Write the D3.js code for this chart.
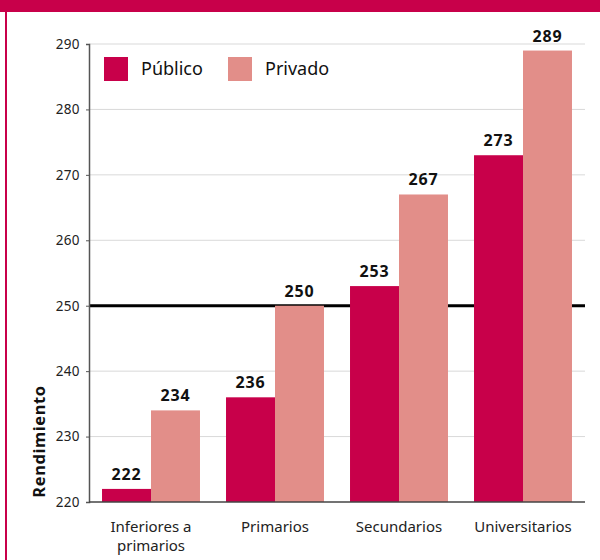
<!DOCTYPE html>
<html>
<head>
<meta charset="utf-8">
<script src="https://cdn.jsdelivr.net/npm/d3@7"></script>
<style>
  body { margin: 0; background: #fff; }
  svg { display: block; font-family: "Noto Sans", "Open Sans", sans-serif; }
</style>
</head>
<body>
<svg id="chart" width="600" height="560"></svg>
<script>
// data
const categories = [["Inferiores a", "primarios"], ["Primarios"], ["Secundarios"], ["Universitarios"]];
const seriesNames = ["Público", "Privado"];
const publico = [222, 236, 253, 273];
const privado = [234, 250, 267, 289];
const yTicks = [220, 230, 240, 250, 260, 270, 280, 290];
const reference = 250;

const colors = {"Público": "#C8004A", "Privado": "#E28E89"};
const margin = {top: 44, right: 15, bottom: 58, left: 89};
const width = 600, height = 560;

const svg = d3.select("#chart");

// frame
svg.append("rect").attr("x", 0).attr("y", 0).attr("width", width).attr("height", 12).attr("fill", "#C8004A");
svg.append("rect").attr("x", 5).attr("y", 0).attr("width", 2).attr("height", height).attr("fill", "#C8004A");

const rows = categories.map((c, i) => ({cat: i, values: [publico[i], privado[i]]}));

const x0 = d3.scaleBand()
    .domain(d3.range(categories.length))
    .range([margin.left, width - margin.right])
    .paddingInner(0.21)
    .paddingOuter(0.105);

const x1 = d3.scaleBand()
    .domain(d3.range(seriesNames.length))
    .range([0, x0.bandwidth()]);

const y = d3.scaleLinear()
    .domain([220, 290])
    .range([height - margin.bottom, margin.top]);

// grid
svg.append("g")
    .selectAll("line")
    .data(yTicks.slice(1))
    .join("line")
    .attr("x1", margin.left)
    .attr("x2", width - margin.right)
    .attr("y1", d => y(d))
    .attr("y2", d => y(d))
    .attr("stroke", "#d9d9d9")
    .attr("stroke-width", 1);

// reference line
svg.append("line")
    .attr("x1", margin.left)
    .attr("x2", width - margin.right)
    .attr("y1", y(reference))
    .attr("y2", y(reference))
    .attr("stroke", "#000")
    .attr("stroke-width", 3);

// bars
const groups = svg.append("g")
    .selectAll("g")
    .data(rows)
    .join("g")
    .attr("transform", d => `translate(${x0(d.cat)},0)`);

groups.selectAll("rect")
    .data(d => d.values.map((v, j) => ({v, j})))
    .join("rect")
    .attr("x", d => x1(d.j))
    .attr("width", x1.bandwidth())
    .attr("y", d => y(d.v))
    .attr("height", d => y(220) - y(d.v))
    .attr("fill", d => colors[seriesNames[d.j]]);

groups.selectAll("text")
    .data(d => d.values.map((v, j) => ({v, j})))
    .join("text")
    .attr("x", d => x1(d.j) + x1.bandwidth() / 2)
    .attr("y", d => y(d.v) - 9)
    .attr("text-anchor", "middle")
    .attr("font-size", 16)
    .attr("font-weight", "bold")
    .attr("letter-spacing", 0.8)
    .attr("fill", "#111")
    .text(d => d.v);

// y axis
const yAxis = svg.append("g")
    .attr("transform", `translate(${margin.left},0)`)
    .call(d3.axisLeft(y).tickValues(yTicks).tickSize(3).tickPadding(6));
yAxis.select(".domain").attr("stroke", "#555").attr("stroke-width", 1.5);
yAxis.selectAll(".tick line").attr("stroke", "#555");
yAxis.selectAll(".tick text")
    .attr("font-size", 13.5)
    .attr("font-family", "Noto Sans, sans-serif")
    .attr("letter-spacing", 0.4)
    .attr("fill", "#222");

// x axis baseline
svg.append("line")
    .attr("x1", margin.left)
    .attr("x2", width - margin.right)
    .attr("y1", y(220))
    .attr("y2", y(220))
    .attr("stroke", "#444")
    .attr("stroke-width", 1.5);

// category labels
svg.append("g")
    .selectAll("text")
    .data(categories)
    .join("text")
    .attr("x", (d, i) => x0(i) + x0.bandwidth() / 2)
    .attr("y", y(220) + 30)
    .attr("text-anchor", "middle")
    .attr("font-size", 15)
    .attr("fill", "#222")
    .each(function(d) {
        d3.select(this).selectAll("tspan")
            .data(d)
            .join("tspan")
            .attr("x", d3.select(this).attr("x"))
            .attr("dy", (t, k) => k === 0 ? 0 : 19)
            .text(t => t);
    });

// y label
svg.append("text")
    .attr("transform", `translate(45,${(y(220) + y(238.5)) / 2}) rotate(-90)`)
    .attr("text-anchor", "middle")
    .attr("font-size", 16.5)
    .attr("font-weight", "bold")
    .attr("letter-spacing", 0.6)
    .attr("fill", "#111")
    .text("Rendimiento");

// legend
const legend = svg.append("g")
    .attr("transform", `translate(104,57)`);
const items = legend.selectAll("g")
    .data(seriesNames)
    .join("g")
    .attr("transform", (d, i) => `translate(${i * 124},0)`);
items.append("rect")
    .attr("width", 24)
    .attr("height", 24)
    .attr("fill", d => colors[d]);
items.append("text")
    .attr("x", 37)
    .attr("y", 18)
    .attr("font-size", 18)
    .attr("fill", "#111")
    .text(d => d);
</script>
</body>
</html>
